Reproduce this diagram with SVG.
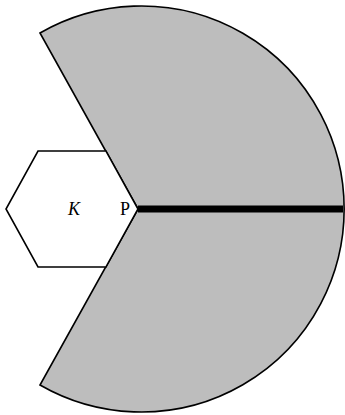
<svg xmlns="http://www.w3.org/2000/svg" width="345" height="415" viewBox="0 0 345 415">
<style>
.ln{stroke:#000;stroke-width:1.6;stroke-linejoin:miter}
.lbl{font-family:"Liberation Serif",serif;font-size:18px;fill:#000;text-anchor:middle}
</style>
<rect width="345" height="415" fill="#fff"/>
<g id="region">
<path class="ln" d="M138,209 L40,33 A203,203 0 1 1 40,385 Z" fill="#bdbdbd"/>
</g>
<g id="hexagon">
<path class="ln" d="M38,151 L106,151 L138,209 L106,267 L38,267 L6,209 Z" fill="#fff"/>
<text class="lbl" x="74" y="215" font-style="italic">K</text>
<text class="lbl" x="125" y="215">P</text>
</g>
<g id="connectors">
<line x1="138" y1="209" x2="343" y2="209" stroke="#000" stroke-width="7"/>
</g>
</svg>
